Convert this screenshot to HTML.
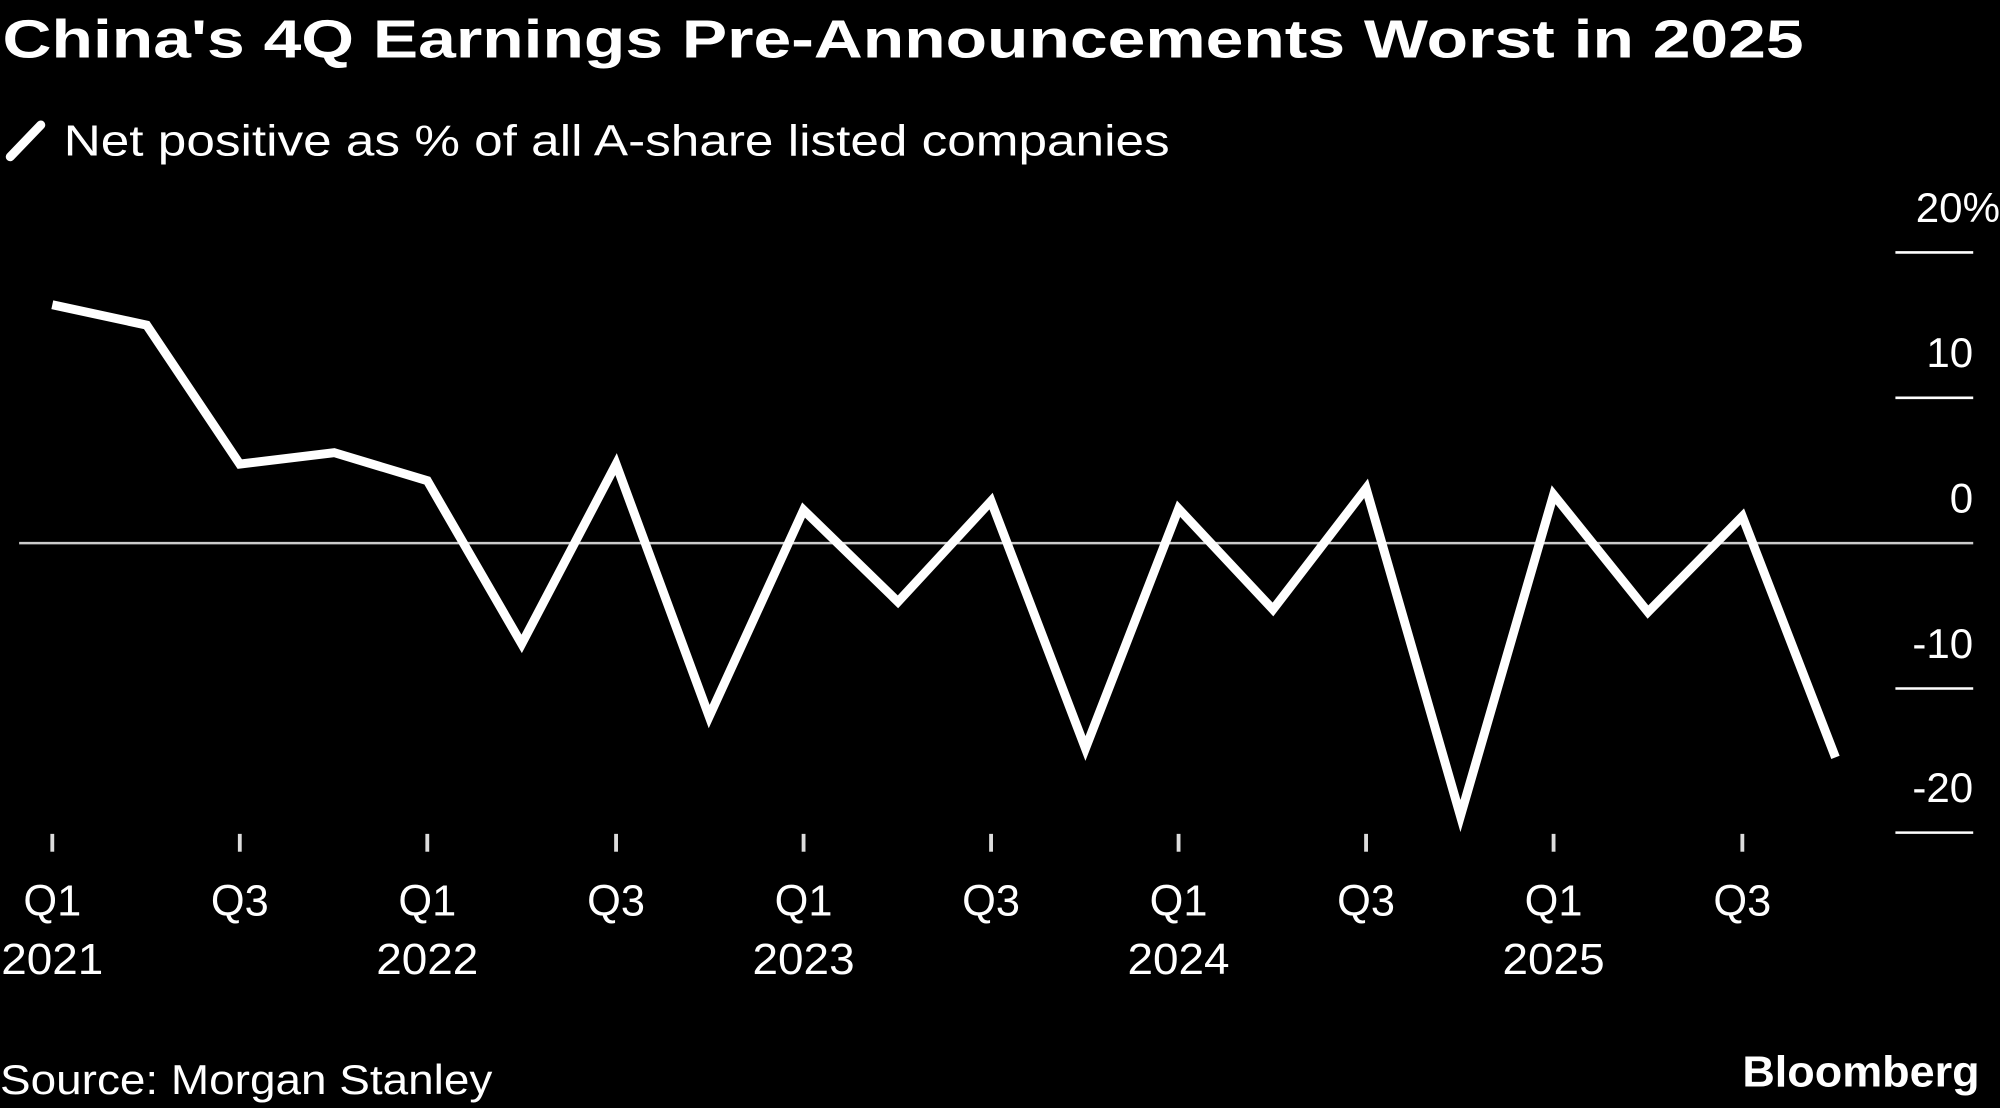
<!DOCTYPE html>
<html><head><meta charset="utf-8"><style>
html,body{margin:0;padding:0;background:#000;width:2000px;height:1108px;overflow:hidden}
svg{display:block}
text{font-family:"Liberation Sans",sans-serif;fill:#fff}
</style></head><body>
<svg width="2000" height="1108" viewBox="0 0 1568 869" preserveAspectRatio="none">
<rect width="1568" height="869" fill="#000"/>
<text x="2" y="45" font-size="42" font-weight="bold" textLength="1412" lengthAdjust="spacingAndGlyphs">China's 4Q Earnings Pre-Announcements Worst in 2025</text>
<line x1="8" y1="123" x2="32" y2="98" stroke="#fff" stroke-width="7" stroke-linecap="round"/>
<text x="50" y="122" font-size="34" fill="#ddd" textLength="867" lengthAdjust="spacingAndGlyphs">Net positive as % of all A-share listed companies</text>
<g stroke="#fff" stroke-width="2">
<line x1="1486" y1="198" x2="1547" y2="198"/>
<line x1="1486" y1="312" x2="1547" y2="312"/>
<line x1="15" y1="426" x2="1547" y2="426" stroke="#ccc"/>
<line x1="1486" y1="540" x2="1547" y2="540"/>
<line x1="1486" y1="653" x2="1547" y2="653"/>
</g>
<g font-size="33" text-anchor="end" fill="#ddd">
<text x="1568" y="174">20%</text>
<text x="1547" y="288">10</text>
<text x="1547" y="402">0</text>
<text x="1547" y="516">-10</text>
<text x="1547" y="629">-20</text>
</g>
<g stroke="#ddd" stroke-width="3">
<line x1="41" y1="654" x2="41" y2="668"/><line x1="188" y1="654" x2="188" y2="668"/>
<line x1="335" y1="654" x2="335" y2="668"/><line x1="483" y1="654" x2="483" y2="668"/>
<line x1="630" y1="654" x2="630" y2="668"/><line x1="777" y1="654" x2="777" y2="668"/>
<line x1="924" y1="654" x2="924" y2="668"/><line x1="1071" y1="654" x2="1071" y2="668"/>
<line x1="1218" y1="654" x2="1218" y2="668"/><line x1="1366" y1="654" x2="1366" y2="668"/>
</g>
<g font-size="34" text-anchor="middle" fill="#ddd">
<text x="41" y="718">Q1</text><text x="188" y="718">Q3</text><text x="335" y="718">Q1</text>
<text x="483" y="718">Q3</text><text x="630" y="718">Q1</text><text x="777" y="718">Q3</text>
<text x="924" y="718">Q1</text><text x="1071" y="718">Q3</text><text x="1218" y="718">Q1</text>
<text x="1366" y="718">Q3</text>
<text x="41" y="764" textLength="80" lengthAdjust="spacingAndGlyphs">2021</text><text x="335" y="764" textLength="80" lengthAdjust="spacingAndGlyphs">2022</text><text x="630" y="764" textLength="80" lengthAdjust="spacingAndGlyphs">2023</text>
<text x="924" y="764" textLength="80" lengthAdjust="spacingAndGlyphs">2024</text><text x="1218" y="764" textLength="80" lengthAdjust="spacingAndGlyphs">2025</text>
</g>
<polyline fill="none" stroke="#fff" stroke-width="7" stroke-linejoin="miter" points="41,239 115,255 188,364 262,355 335,377 409,505 483,364 556,562 630,400 704,472 777,393 851,587 924,399 998,478 1071,383 1145,640 1218,388 1292,480 1366,405 1439,594"/>
<text x="0" y="858" font-size="33" fill="#ddd" textLength="386" lengthAdjust="spacingAndGlyphs">Source: Morgan Stanley</text>
<text x="1552" y="852" font-size="34" font-weight="bold" text-anchor="end" textLength="186" lengthAdjust="spacingAndGlyphs">Bloomberg</text>
</svg>
</body></html>
